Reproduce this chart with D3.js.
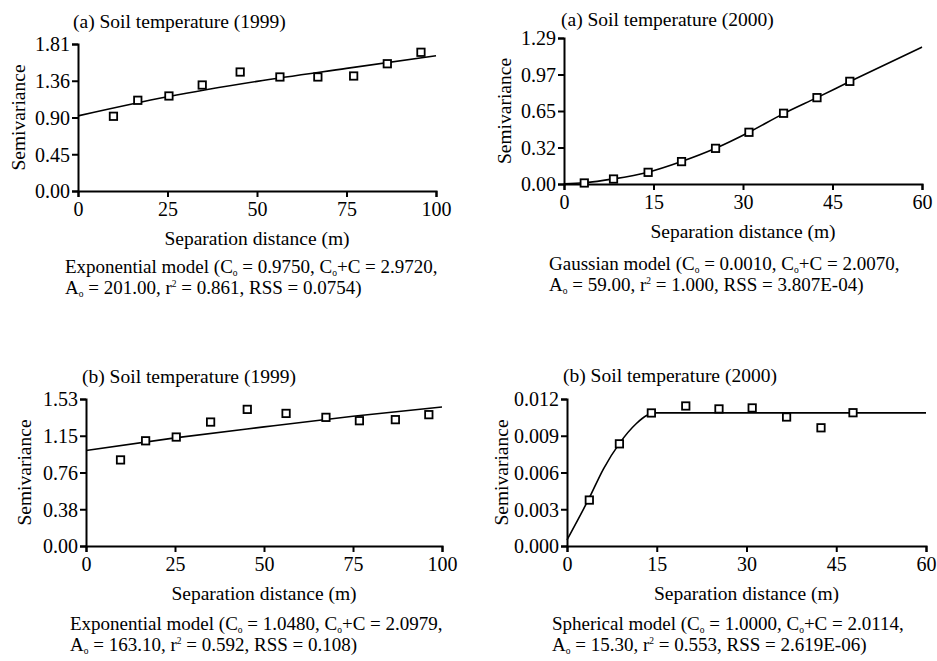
<!DOCTYPE html>
<html>
<head>
<meta charset="utf-8">
<script src="https://cdn.jsdelivr.net/npm/d3@7"></script>
<style>
  html, body { margin: 0; padding: 0; background: #fff; }
  svg { display: block; }
  text { font-family: "Liberation Serif", "Times New Roman", serif; fill: #000; }
</style>
</head>
<body>
<div id="chart"></div>
<script>
// ---------------- DATA ----------------
// Panel (a) Soil temperature (1999)
const p1Dist = [9.9, 16.7, 25.4, 34.7, 45.3, 56.4, 67.0, 77.0, 86.4, 95.8];
const p1Semi = [0.92, 1.117, 1.17, 1.305, 1.465, 1.404, 1.404, 1.416, 1.567, 1.708];
const p1FitDist = [0, 25, 50, 75, 100];
const p1FitSemi = [0.925, 1.16, 1.35, 1.51, 1.666];
const p1YTicks = [0, 0.4525, 0.905, 1.3575, 1.81];
const p1YLabels = ["0.00", "0.45", "0.90", "1.36", "1.81"];
const p1XTicks = [0, 25, 50, 75, 100];

// Panel (a) Soil temperature (2000)
const p2Dist = [3.4, 8.3, 14.1, 19.7, 25.4, 31.0, 36.8, 42.4, 47.9];
const p2Semi = [0.009, 0.044, 0.103, 0.198, 0.315, 0.457, 0.625, 0.763, 0.907];
const p2FitDist = [0, 3.4, 8.3, 14.1, 19.7, 25.4, 31.0, 36.8, 42.4, 47.9, 60];
const p2FitSemi = [0.001, 0.011, 0.045, 0.104, 0.198, 0.315, 0.457, 0.622, 0.763, 0.905, 1.21];
const p2YTicks = [0, 0.3225, 0.645, 0.9675, 1.29];
const p2YLabels = ["0.00", "0.32", "0.65", "0.97", "1.29"];
const p2XTicks = [0, 15, 30, 45, 60];

// Panel (b) Soil temperature (1999)
const p3Dist = [9.7, 16.75, 25.35, 35.0, 45.3, 56.2, 67.4, 76.8, 86.9, 96.3];
const p3Semi = [0.896, 1.095, 1.134, 1.29, 1.422, 1.38, 1.339, 1.304, 1.315, 1.367];
const p3FitDist = [0, 25, 50, 75, 100];
const p3FitSemi = [0.994, 1.125, 1.24, 1.35, 1.447];
const p3YTicks = [0, 0.3825, 0.765, 1.1475, 1.53];
const p3YLabels = ["0.00", "0.38", "0.76", "1.15", "1.53"];
const p3XTicks = [0, 25, 50, 75, 100];

// Panel (b) Soil temperature (2000)
const p4Dist = [3.73, 8.76, 14.1, 19.85, 25.4, 30.95, 36.7, 42.45, 47.8];
const p4Semi = [0.00375, 0.00834, 0.01086, 0.01143, 0.01119, 0.01127, 0.01053, 0.00965, 0.01088];
const p4FitDist = [0, 3.7, 6.1, 8.8, 11.6, 13.3, 14.7, 20, 60];
const p4FitSemi = [0.0005, 0.0039, 0.0063, 0.0084, 0.0100, 0.01065, 0.01087, 0.01087, 0.01087];
const p4YTicks = [0, 0.003, 0.006, 0.009, 0.012];
const p4YLabels = ["0.000", "0.003", "0.006", "0.009", "0.012"];
const p4XTicks = [0, 15, 30, 45, 60];

const titles = ["(a) Soil temperature (1999)", "(a) Soil temperature (2000)",
                "(b) Soil temperature (1999)", "(b) Soil temperature (2000)"];
const xTitle = "Separation distance (m)";
const yTitle = "Semivariance";

// Captions: segments [text, kind] where kind = "" | "sub" | "sup"
const captions = [
  [
    [["Exponential model (C",""],["o","sub"],[" = 0.9750, C",""],["o","sub"],["+C = 2.9720,",""]],
    [["A",""],["o","sub"],[" = 201.00, r",""],["2","sup"],[" = 0.861, RSS = 0.0754)",""]]
  ],
  [
    [["Gaussian model (C",""],["o","sub"],[" = 0.0010, C",""],["o","sub"],["+C = 2.0070,",""]],
    [["A",""],["o","sub"],[" = 59.00, r",""],["2","sup"],[" = 1.000, RSS = 3.807E-04)",""]]
  ],
  [
    [["Exponential model (C",""],["o","sub"],[" = 1.0480, C",""],["o","sub"],["+C = 2.0979,",""]],
    [["A",""],["o","sub"],[" = 163.10, r",""],["2","sup"],[" = 0.592, RSS = 0.108)",""]]
  ],
  [
    [["Spherical model (C",""],["o","sub"],[" = 1.0000, C",""],["o","sub"],["+C = 2.0114,",""]],
    [["A",""],["o","sub"],[" = 15.30, r",""],["2","sup"],[" = 0.553, RSS = 2.619E-06)",""]]
  ]
];

// ---------------- LAYOUT ----------------
const layouts = [
  {x0: 78,  x1: 436,  yTop: 44,  yBot: 191,  titleX: 73,  titleY: 28,  yTitleX: 25,  capX: 65,  capY: [273, 294]},
  {x0: 564, x1: 922,  yTop: 38,  yBot: 184,  titleX: 561, titleY: 26,  yTitleX: 511, capX: 549, capY: [270, 291]},
  {x0: 86,  x1: 442,  yTop: 399, yBot: 546,  titleX: 82,  titleY: 383, yTitleX: 31,  capX: 70,  capY: [630, 651]},
  {x0: 567, x1: 926,  yTop: 399, yBot: 546,  titleX: 563, titleY: 382, yTitleX: 508, capX: 552, capY: [630, 651]}
];

const panels = [
  {dist: p1Dist, semi: p1Semi, fitD: p1FitDist, fitS: p1FitSemi, yT: p1YTicks, yL: p1YLabels, xT: p1XTicks},
  {dist: p2Dist, semi: p2Semi, fitD: p2FitDist, fitS: p2FitSemi, yT: p2YTicks, yL: p2YLabels, xT: p2XTicks},
  {dist: p3Dist, semi: p3Semi, fitD: p3FitDist, fitS: p3FitSemi, yT: p3YTicks, yL: p3YLabels, xT: p3XTicks},
  {dist: p4Dist, semi: p4Semi, fitD: p4FitDist, fitS: p4FitSemi, yT: p4YTicks, yL: p4YLabels, xT: p4XTicks}
];

const FS = 19.5;
const CFS = 19;
const TFS = 20;
const FONT = '"Liberation Serif", "Times New Roman", serif';

const svg = d3.select("#chart").append("svg")
  .attr("width", 937).attr("height", 661)
  .attr("viewBox", "0 0 937 661");

panels.forEach((p, i) => {
  const L = layouts[i];
  const x = d3.scaleLinear().domain([p.xT[0], p.xT[p.xT.length - 1]]).range([L.x0, L.x1]);
  const y = d3.scaleLinear().domain([p.yT[0], p.yT[p.yT.length - 1]]).range([L.yBot, L.yTop]);
  const g = svg.append("g");

  // title
  g.append("text").attr("x", L.titleX).attr("y", L.titleY)
    .style("font-size", FS + "px").text(titles[i]);

  // y axis
  const ya = g.append("g").attr("transform", `translate(${L.x0},0)`)
    .call(d3.axisLeft(y).tickValues(p.yT).tickFormat((d, k) => p.yL[k]).tickSizeOuter(0).tickSize(6).tickPadding(2));
  // x axis
  const xa = g.append("g").attr("transform", `translate(0,${L.yBot})`)
    .call(d3.axisBottom(x).tickValues(p.xT).tickFormat(d3.format("d")).tickSizeOuter(0).tickSize(6).tickPadding(4));
  [ya, xa].forEach(a => {
    a.select(".domain").attr("stroke", "#000").attr("stroke-width", 2);
    a.selectAll(".tick line").attr("stroke", "#000").attr("stroke-width", 2);
    a.selectAll(".tick text").style("font-size", TFS + "px")
      .style("font-family", FONT).attr("fill", "#000");
  });
  ya.selectAll(".tick text").attr("dy", "0.34em");
  xa.selectAll(".tick text").attr("dy", null).attr("y", 25);

  // axis titles
  g.append("text").attr("x", (L.x0 + L.x1) / 2).attr("y", L.yBot + 54)
    .attr("text-anchor", "middle").style("font-size", FS + "px").text(xTitle);
  g.append("text")
    .attr("transform", `translate(${L.yTitleX},${(L.yTop + L.yBot) / 2}) rotate(-90)`)
    .attr("text-anchor", "middle").style("font-size", FS + "px").text(yTitle);

  // fitted line
  const fit = p.fitD.map((d, k) => [d, p.fitS[k]]);
  g.append("path").datum(fit)
    .attr("fill", "none").attr("stroke", "#000").attr("stroke-width", 1.6)
    .attr("d", d3.line().x(d => x(d[0])).y(d => y(d[1])).curve(d3.curveMonotoneX));

  // observed points (open squares)
  const pts = p.dist.map((d, k) => [d, p.semi[k]]);
  const s = 7.4;
  g.selectAll("rect.pt").data(pts).enter().append("rect")
    .attr("class", "pt")
    .attr("x", d => x(d[0]) - s / 2).attr("y", d => y(d[1]) - s / 2)
    .attr("width", s).attr("height", s)
    .attr("fill", "#fff").attr("stroke", "#000").attr("stroke-width", 1.8);

  // caption
  captions[i].forEach((line, li) => {
    const t = g.append("text").attr("x", L.capX).attr("y", L.capY[li]).style("font-size", CFS + "px");
    let offset = 0; // current baseline offset
    line.forEach(([txt, kind]) => {
      const target = kind === "sub" ? 3 : kind === "sup" ? -7 : 0;
      const ts = t.append("tspan").attr("dy", target - offset).text(txt);
      if (kind) ts.style("font-size", "9.5px");
      offset = target;
    });
  });
});
</script>
</body>
</html>
